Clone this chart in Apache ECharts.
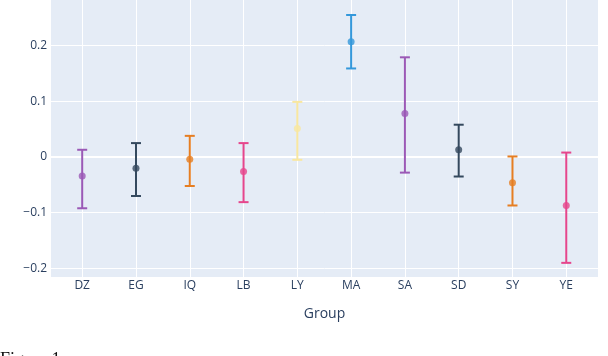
<!DOCTYPE html>
<html>
<head>
<meta charset="utf-8">
<script src="https://cdn.jsdelivr.net/npm/echarts@6/dist/echarts.min.js"></script>
<style>
  html, body { margin: 0; padding: 0; background: #fff; }
  #chart { width: 608px; height: 356px; }
</style>
</head>
<body>
<div id="chart"></div>
<script>
// groups and their estimated effect with lower / upper bounds
const groups = ['DZ', 'EG', 'IQ', 'LB', 'LY', 'MA', 'SA', 'SD', 'SY', 'YE'];
const means = [-0.034, -0.020, -0.004, -0.026, 0.051, 0.207, 0.078, 0.013, -0.046, -0.087];
const lower = [-0.092, -0.070, -0.052, -0.081, -0.005, 0.159, -0.028, -0.035, -0.087, -0.190];
const upper = [0.013, 0.025, 0.038, 0.025, 0.099, 0.255, 0.179, 0.058, 0.001, 0.008];
const colors = ['#9b59b6', '#34495e', '#e67e22', '#e6468c', '#f9e79f',
                '#3498db', '#9b59b6', '#34495e', '#e67e22', '#e6468c'];
const yTicks = [-0.2, -0.1, 0, 0.1, 0.2];
const xTicks = groups.map((g, i) => i);

const chart = echarts.init(document.getElementById('chart'));

const errData = groups.map((g, i) => [i, lower[i], upper[i]]);
const pointData = groups.map((g, i) => ({
    value: [i, means[i]],
    itemStyle: { color: colors[i] }
}));

function renderErr(params, api) {
    let i = api.value(0);
    let lo = api.coord([i, api.value(1)]);
    let hi = api.coord([i, api.value(2)]);
    let half = 5;
    let style = { stroke: colors[i], lineWidth: 2 };
    return {
        type: 'group',
        children: [
            { type: 'line', shape: { x1: lo[0], y1: lo[1], x2: hi[0], y2: hi[1] }, style: style },
            { type: 'line', shape: { x1: hi[0] - half, y1: hi[1], x2: hi[0] + half, y2: hi[1] }, style: style },
            { type: 'line', shape: { x1: lo[0] - half, y1: lo[1], x2: lo[0] + half, y2: lo[1] }, style: style }
        ]
    };
}

const font = '"Open Sans", "DejaVu Sans", sans-serif';

let option = {
    animation: false,
    backgroundColor: '#fff',
    grid: {
        left: 51, right: 10, top: 0, bottom: 79,
        show: true, backgroundColor: '#e5ecf6', borderWidth: 0
    },
    xAxis: {
        type: 'value',
        min: -0.58, max: 9.59,
        name: 'Group',
        nameLocation: 'middle',
        nameGap: 30,
        nameTextStyle: { color: '#2a3f5f', fontSize: 14, fontFamily: font },
        axisLine: { show: false },
        axisTick: { show: false, customValues: xTicks },
        axisLabel: {
            customValues: xTicks,
            color: '#2a3f5f', fontSize: 12, fontFamily: font, margin: 3,
            formatter: v => groups[Math.round(v)]
        },
        splitLine: { show: true, lineStyle: { color: '#fff', width: 1 } }
    },
    yAxis: {
        type: 'value',
        min: -0.2154, max: 0.2819,
        axisLine: { show: false },
        axisTick: { show: false, customValues: yTicks },
        axisLabel: {
            customValues: yTicks,
            color: '#2a3f5f', fontSize: 12, fontFamily: font, margin: 4,
            formatter: v => {
                let r = Math.round(v * 10) / 10;
                if (r === 0) return '0';
                return (r < 0 ? '\u2212' : '') + Math.abs(r).toFixed(1);
            }
        },
        splitLine: { show: true, lineStyle: { color: '#fff', width: 1 } }
    },
    series: [
        {
            type: 'custom',
            renderItem: renderErr,
            data: errData,
            encode: { x: 0, y: [1, 2] },
            z: 3,
            markLine: {
                silent: true,
                symbol: 'none',
                label: { show: false },
                lineStyle: { color: '#fff', width: 2, type: 'solid' },
                data: [{ yAxis: 0 }],
                z: 1
            }
        },
        {
            type: 'scatter',
            symbol: 'circle',
            symbolSize: 7,
            data: pointData,
            z: 4
        }
    ],
    graphic: [{
        type: 'text',
        left: 0,
        top: 351,
        style: {
            text: 'Figure 1:',
            fill: '#111',
            font: '18px "Liberation Serif", serif'
        }
    }]
};

chart.setOption(option);
</script>
</body>
</html>
